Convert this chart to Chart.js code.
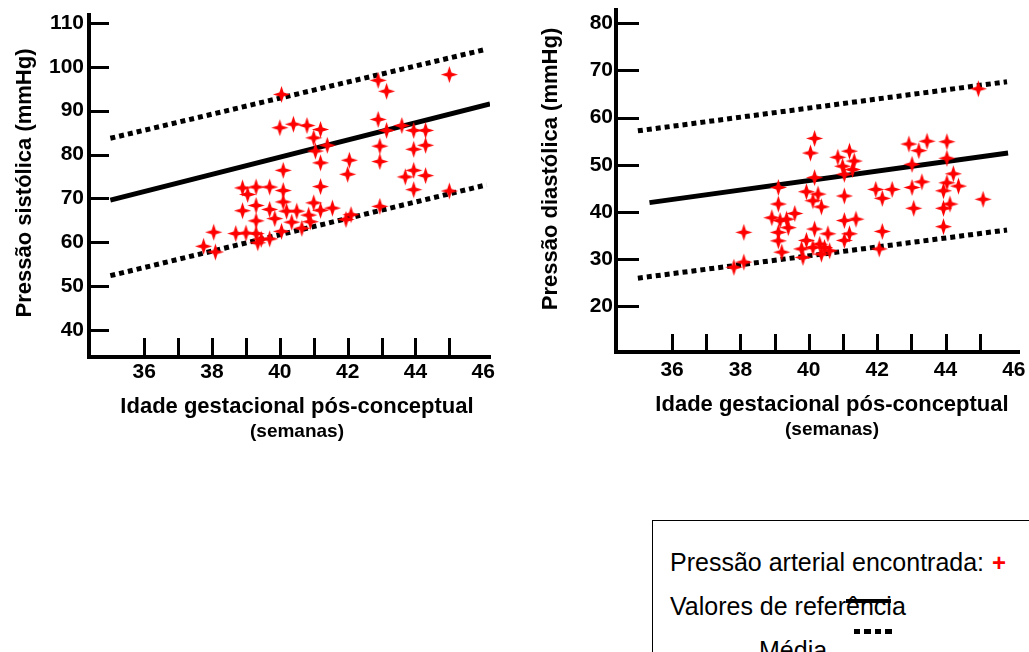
<!DOCTYPE html>
<html lang="pt">
<head>
<meta charset="utf-8">
<title>Pressão arterial e idade gestacional pós-conceptual</title>
<script src="https://cdn.jsdelivr.net/npm/chart.js@4.4.1/dist/chart.umd.min.js"></script>
<style>
  html, body { margin: 0; padding: 0; background: #fff; overflow: hidden; width: 1029px; height: 652px; }
  #wrap { position: relative; width: 1029px; height: 652px; }
  canvas { position: absolute; top: 0; }
  #sis { left: 0; }
  #dia { left: 520px; }
  #legenda {
    position: absolute; left: 652px; top: 520px; width: 420px; height: 200px;
    border: 1.5px solid #000; box-sizing: border-box;
    font-family: "Liberation Sans", Arial, sans-serif; font-size: 25px; color: #000;
  }
  #legenda .linha { position: absolute; white-space: nowrap; line-height: 25px; }
  #legenda .mais { color: #ff0000; font-weight: bold; font-size: 24px; margin-left: 8px; }
  #simMedia { position: absolute; left: 193px; top: 78px; width: 45px; height: 4px; background: #000; }
  #simLimite { position: absolute; left: 201px; top: 107.5px; width: 39px; height: 5px;
    background: repeating-linear-gradient(90deg, #000 0 6.5px, transparent 6.5px 10.5px); }
</style>
</head>
<body>
<div id="wrap">
  <canvas id="sis" width="510" height="450"></canvas>
  <canvas id="dia" width="509" height="450"></canvas>
  <div id="legenda">
    <div class="linha" style="left:17px; top:29px;">Pressão arterial encontrada:<span class="mais">+</span></div>
    <div class="linha" style="left:17px; top:73px;">Valores de referência</div>
    <div id="simMedia"></div>
    <div id="simLimite"></div>
    <div class="linha" style="left:106px; top:117px;">Média</div>
  </div>
</div>
<script>
// Pressão sistólica observada: idade pós-conceptual (semanas) e pressão (mmHg)
const sisIdade = [45.0, 40.05, 42.9, 43.15, 40.0, 40.4, 40.8, 41.2, 41.0, 41.4, 41.05, 41.2, 40.1, 41.2,
  42.9, 43.15, 43.6, 43.95, 44.3, 42.95, 43.95, 44.3, 42.95, 42.05, 42.0, 43.7, 43.95, 44.3, 43.95, 45.0,
  42.95, 38.9, 39.05, 39.3, 39.7, 40.1, 39.3, 38.9, 39.7, 40.1, 40.2, 40.5, 41.0, 41.2, 41.55, 39.3,
  39.85, 40.35, 40.85, 40.9, 40.65, 41.95, 42.1, 38.7, 39.0, 39.3, 39.45, 40.05, 39.35, 39.7, 38.05,
  37.75, 38.1];
const sisPressao = [98.2, 93.7, 96.9, 94.4, 86.1, 86.9, 86.6, 85.7, 83.8, 82.1, 80.8, 78.1, 76.4, 72.7,
  88.0, 85.5, 86.6, 85.5, 85.5, 81.9, 81.2, 82.1, 78.4, 78.7, 75.5, 74.9, 76.4, 75.2, 72.0, 71.7,
  68.2, 72.4, 70.9, 72.6, 72.6, 71.8, 68.4, 67.2, 67.5, 69.2, 67.1, 67.1, 69.0, 67.3, 67.8, 64.9,
  65.4, 64.6, 66.2, 64.7, 63.2, 65.2, 66.3, 62.0, 62.1, 62.0, 60.7, 62.5, 59.9, 60.8, 62.3,
  59.1, 57.8];

// Pressão diastólica observada
const diaIdade = [40.17, 40.05, 40.85, 41.19, 41.33, 40.99, 41.28, 41.04, 40.17, 39.11, 39.93, 40.27,
  40.12, 40.37, 41.04, 39.11, 38.92, 39.59, 39.35, 39.16, 39.40, 39.11, 39.11, 39.21, 41.04, 41.38,
  41.19, 41.04, 40.17, 40.56, 39.93, 39.79, 40.32, 40.46, 40.12, 39.83, 40.37, 40.61,
  42.93, 43.46, 43.22, 44.04, 44.04, 43.02, 44.23, 44.04, 44.38, 43.94, 43.31, 43.02, 41.96, 42.44,
  42.15, 43.07, 43.94, 44.13, 43.94, 45.1, 42.15, 42.06, 44.96, 38.1, 38.1, 37.81];
const diaPressao = [55.6, 52.5, 51.6, 52.9, 50.8, 49.7, 49.0, 48.0, 47.3, 45.2, 44.3, 43.8,
  42.4, 41.1, 43.4, 41.7, 38.8, 39.7, 38.5, 38.2, 36.7, 35.7, 33.9, 31.5, 38.2, 38.5,
  35.4, 34.0, 36.4, 35.4, 34.0, 32.2, 33.2, 32.5, 32.5, 30.4, 31.1, 31.8,
  54.4, 55.0, 53.0, 54.9, 51.4, 50.1, 48.1, 46.2, 45.5, 44.5, 46.4, 45.2, 44.8, 44.8,
  42.9, 40.8, 40.8, 41.7, 36.9, 42.7, 35.9, 32.2, 66.1, 35.7, 29.4, 28.3];

// Valores de referência (média e limites) nos extremos de cada reta
const sisMediaIdade = [35.0, 46.2];
const sisMedia = [69.6, 91.5];
const sisLimiteIdade = [35.0, 46.1];
const sisLimSup = [83.7, 104.0];
const sisLimInf = [52.4, 73.1];

const diaMediaIdade = [35.34, 45.83];
const diaMedia = [42.0, 52.5];
const diaLimiteIdade = [35.0, 45.8];
const diaLimSup = [57.2, 67.6];
const diaLimInf = [26.0, 36.2];

// Marcas e rótulos dos eixos
const idadeMarcas = [36, 37, 38, 39, 40, 41, 42, 43, 44, 45];
const idadeRotulos = [36, 38, 40, 42, 44, 46];
const sisMarcas = [40, 50, 60, 70, 80, 90, 100, 110];
const diaMarcas = [20, 30, 40, 50, 60, 70, 80];

const FONTE = '"Liberation Sans", Arial, sans-serif';

// Cruz vermelha de quatro pontas usada como marcador
function criarEstrela() {
  const s = 19, m = s / 2, R = 8.6, r = 3.0;
  const c = document.createElement('canvas');
  c.width = s; c.height = s;
  const g = c.getContext('2d');
  g.beginPath();
  for (let k = 0; k < 8; k++) {
    const a = k * Math.PI / 4 - Math.PI / 2;
    const rad = k % 2 ? r : R;
    g.lineTo(m + rad * Math.cos(a), m + rad * Math.sin(a));
  }
  g.closePath();
  g.fillStyle = '#ff0000';
  g.fill();
  return c;
}
const estrela = criarEstrela();

function pares(xs, ys) { return xs.map((x, i) => ({ x: x, y: ys[i] })); }

function reta(xs, ys, tracejada) {
  return {
    data: pares(xs, ys), showLine: true, borderColor: '#000', borderWidth: 5,
    borderDash: tracejada ? [5, 4] : [], borderCapStyle: 'butt', pointRadius: 0, tension: 0, fill: false
  };
}

function grafico(id, o) {
  // desenha as marcas dos eixos voltadas para dentro e os títulos
  const extras = {
    id: 'extras',
    afterDraw(chart) {
      const ctx = chart.ctx, a = chart.chartArea, sx = chart.scales.x, sy = chart.scales.y;
      ctx.save();
      ctx.strokeStyle = '#000';
      ctx.lineWidth = 3;
      ctx.beginPath();
      idadeMarcas.forEach(v => {
        const px = Math.round(sx.getPixelForValue(v)) + 0.5;
        ctx.moveTo(px, a.bottom); ctx.lineTo(px, a.bottom - o.marcaX);
      });
      o.marcasY.forEach(v => {
        const py = Math.round(sy.getPixelForValue(v)) + 0.5;
        ctx.moveTo(a.left, py); ctx.lineTo(a.left + o.marcaY, py);
      });
      ctx.stroke();

      ctx.fillStyle = '#000';
      ctx.textAlign = 'center';
      ctx.textBaseline = 'alphabetic';
      ctx.font = 'bold 22px ' + FONTE;
      ctx.fillText('Idade gestacional pós-conceptual', o.tituloX, o.linha1Y);
      ctx.font = 'bold 19px ' + FONTE;
      ctx.fillText('(semanas)', o.tituloX, o.linha2Y);

      ctx.translate(o.tituloYx, o.tituloYy);
      ctx.rotate(-Math.PI / 2);
      ctx.textBaseline = 'middle';
      ctx.font = 'bold 22px ' + FONTE;
      ctx.fillText(o.tituloY, 0, 0);
      ctx.restore();
    }
  };

  return new Chart(document.getElementById(id), {
    type: 'scatter',
    data: {
      datasets: [
        { data: pares(o.idade, o.pressao), pointStyle: estrela, pointRadius: 9, pointHoverRadius: 9 },
        reta(o.mediaIdade, o.media, false),
        reta(o.limIdade, o.limSup, true),
        reta(o.limIdade, o.limInf, true)
      ]
    },
    options: {
      responsive: false, animation: false, events: [],
      layout: { padding: { top: o.topo, right: o.direita, left: 0, bottom: 0 } },
      plugins: { legend: { display: false }, tooltip: { enabled: false } },
      scales: {
        x: {
          type: 'linear', min: o.xMin, max: o.xMax,
          grid: { display: false, drawTicks: false },
          border: { display: true, width: 4, color: '#000' },
          ticks: {
            stepSize: 1, includeBounds: false, autoSkip: false, maxRotation: 0, minRotation: 0,
            padding: o.padX, color: '#000', font: { family: FONTE, size: 21, weight: 'bold' },
            callback: v => idadeRotulos.includes(v) ? String(v) : ''
          },
          afterFit(s) { s.height = o.alturaX; s.paddingLeft = 0; s.paddingRight = 0; }
        },
        y: {
          type: 'linear', min: o.yMin, max: o.yMax,
          grid: { display: false, drawTicks: false },
          border: { display: true, width: 4, color: '#000' },
          ticks: {
            stepSize: 10, includeBounds: false, padding: o.padY, color: '#000',
            font: { family: FONTE, size: 21, weight: 'bold' },
            callback: v => o.marcasY.includes(v) ? String(v) : ''
          },
          afterFit(s) { s.width = o.larguraY; s.paddingTop = 0; s.paddingBottom = 0; }
        }
      }
    },
    plugins: [extras]
  });
}

grafico('sis', {
  idade: sisIdade, pressao: sisPressao,
  mediaIdade: sisMediaIdade, media: sisMedia,
  limIdade: sisLimiteIdade, limSup: sisLimSup, limInf: sisLimInf,
  marcasY: sisMarcas,
  xMin: 34.37, xMax: 46.2, yMin: 33.88, yMax: 111.78,
  topo: 15, direita: 20, larguraY: 89, alturaX: 93,
  padX: 3, padY: 5, marcaX: 19, marcaY: 20,
  tituloX: 297, linha1Y: 413, linha2Y: 437,
  tituloY: 'Pressão sistólica (mmHg)', tituloYx: 25, tituloYy: 183
});

grafico('dia', {
  idade: diaIdade, pressao: diaPressao,
  mediaIdade: diaMediaIdade, media: diaMedia,
  limIdade: diaLimiteIdade, limSup: diaLimSup, limInf: diaLimInf,
  marcasY: diaMarcas,
  xMin: 34.36, xMax: 46.15, yMin: 10.36, yMax: 82.79,
  topo: 8, direita: 6, larguraY: 96, alturaX: 98,
  padX: 6, padY: 3, marcaX: 18, marcaY: 23,
  tituloX: 312, linha1Y: 411, linha2Y: 435,
  tituloY: 'Pressão diastólica (mmHg)', tituloYx: 31, tituloYy: 169
});
</script>
</body>
</html>
